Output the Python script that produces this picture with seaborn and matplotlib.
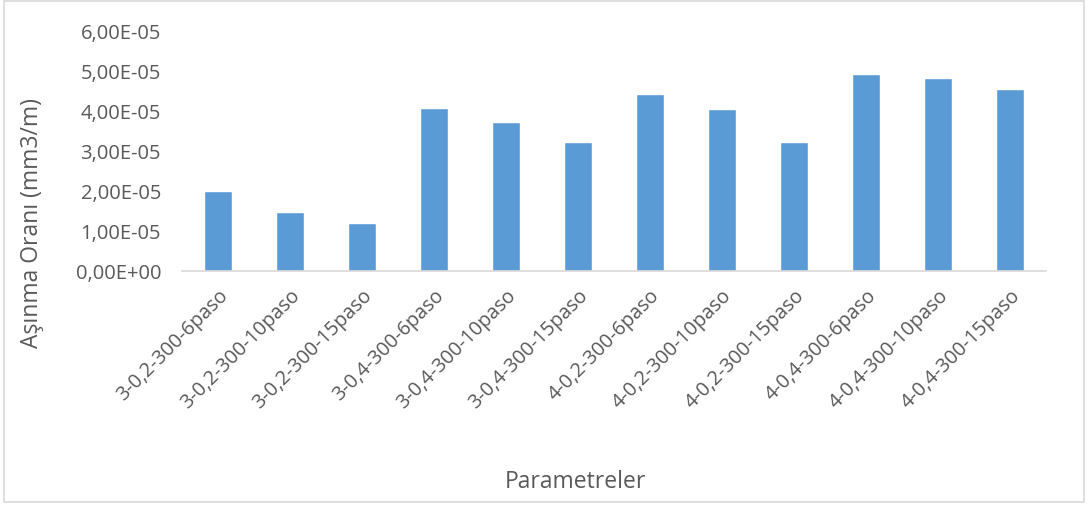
import seaborn as sns
import matplotlib.pyplot as plt, numpy as np
import pandas as pd
from matplotlib.ticker import FuncFormatter
from matplotlib.patches import Rectangle

parametreler = ['3-0,2-300-6paso', '3-0,2-300-10paso', '3-0,2-300-15paso',
                '3-0,4-300-6paso', '3-0,4-300-10paso', '3-0,4-300-15paso',
                '4-0,2-300-6paso', '4-0,2-300-10paso', '4-0,2-300-15paso',
                '4-0,4-300-6paso', '4-0,4-300-10paso', '4-0,4-300-15paso']
asinma = [1.98e-05, 1.46e-05, 1.20e-05, 4.05e-05, 3.70e-05, 3.22e-05,
          4.41e-05, 4.03e-05, 3.22e-05, 4.90e-05, 4.81e-05, 4.54e-05]

df = pd.DataFrame({'param': parametreler, 'oran': asinma})

sns.set_style('white')
plt.rcParams['font.family'] = ['Open Sans', 'DejaVu Sans']
txt = '#595959'

fig = plt.figure(figsize=(10.89, 5.06), dpi=100)
ax = fig.add_axes([0.167, 0.4625, 0.7935, 0.4762])
sns.barplot(data=df, x='param', y='oran', color='#5B9BD5', width=0.39,
            saturation=1, ax=ax)

ax.set_ylim(0, 6e-05)
ax.set_yticks(np.arange(0, 6.01e-05, 1e-05))
ax.yaxis.set_major_formatter(FuncFormatter(
    lambda v, p: ('%.2E' % v).replace('.', ',')))
ax.tick_params(axis='y', length=0, pad=15, labelsize=14.5, labelcolor=txt)
ax.tick_params(axis='x', length=0, pad=10, labelsize=14.3, labelcolor=txt)
for lbl in ax.get_xticklabels():
    lbl.set_rotation(45)
    lbl.set_ha('right')
    lbl.set_rotation_mode('anchor')

sns.despine(ax=ax, left=True)
ax.spines['bottom'].set_color('#D9D9D9')
ax.spines['bottom'].set_linewidth(1.2)

ax.set_xlabel('Parametreler', fontsize=16.5, color=txt)
ax.set_ylabel('Aşınma Oranı (mm3/m)', fontsize=16.5, color=txt)
ax.xaxis.set_label_coords(0.456, -0.82)
ax.yaxis.set_label_coords(-0.159, 0.203)

fig.patches.append(Rectangle((0.004, 0.006), 0.991, 0.99, transform=fig.transFigure,
                             fill=False, edgecolor='#D9D9D9', linewidth=1.2))

fig.savefig('out.png', dpi=100)
